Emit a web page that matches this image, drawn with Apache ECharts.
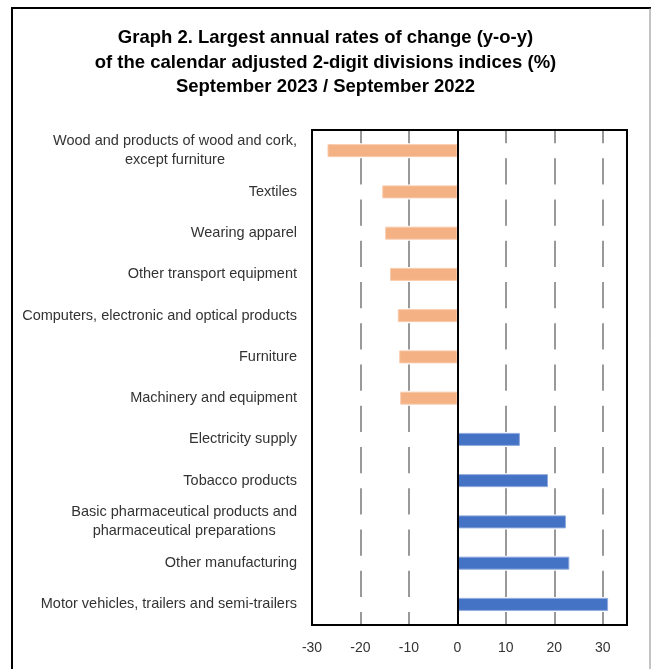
<!DOCTYPE html>
<html>
<head>
<meta charset="utf-8">
<script src="https://cdn.jsdelivr.net/npm/echarts@6/dist/echarts.min.js"></script>
<style>html,body{margin:0;padding:0;background:#fff;}#c{width:651px;height:669px;}</style>
</head>
<body>
<div id="c"></div>
<script>
var categories = [
  "Wood and products of wood and cork,\nexcept furniture",
  "Textiles",
  "Wearing apparel",
  "Other transport equipment",
  "Computers, electronic and optical products",
  "Furniture",
  "Machinery and equipment",
  "Electricity supply",
  "Tobacco products",
  "Basic pharmaceutical products and\npharmaceutical preparations",
  "Other manufacturing",
  "Motor vehicles, trailers and semi-trailers"
];
var values = [-26.8, -15.5, -14.9, -13.9, -12.3, -12.0, -11.8, 12.9, 18.7, 22.4, 23.1, 31.1];
var xTicks = [-30, -20, -10, 0, 10, 20, 30];
var titleLines = [
  "Graph 2. Largest annual rates of change (y-o-y)",
  "of the calendar adjusted 2-digit divisions indices (%)",
  "September 2023 / September 2022"
];

var chart = echarts.init(document.getElementById('c'), null, {renderer: 'canvas'});
var font = 'Liberation Sans';
var option = {
  animation: false,
  backgroundColor: '#fff',
  title: {
    text: titleLines.join('\n'),
    left: 'center',
    top: 21,
    textStyle: {fontFamily: font, fontWeight: 'bold', fontSize: 18.5, lineHeight: 24.5, color: '#000'}
  },
  graphic: [
    {type: 'line', shape: {x1: 12, y1: 8, x2: 651, y2: 8}, style: {stroke: '#000', lineWidth: 2}},
    {type: 'line', shape: {x1: 12, y1: 7, x2: 12, y2: 669}, style: {stroke: '#000', lineWidth: 2}},
    {type: 'line', shape: {x1: 650, y1: 8, x2: 650, y2: 669}, style: {stroke: '#888', lineWidth: 1}}
  ],
  grid: {left: 312, right: 24, top: 130, bottom: 44, show: true, z: 10, borderColor: '#000', borderWidth: 2, backgroundColor: 'transparent', containLabel: false},
  xAxis: {
    type: 'value', min: -30, max: 35, interval: 10,
    axisLine: {show: false}, axisTick: {show: false},
    splitLine: {show: true, lineStyle: {color: '#999', width: 2}},
    axisLabel: {
      margin: 16, fontFamily: font, fontSize: 14, color: '#333',
      formatter: function (v) { return xTicks.indexOf(v) >= 0 ? String(v) : ''; }
    }
  },
  yAxis: {
    type: 'category', data: categories, inverse: true, z: 10,
    axisLine: {show: true, onZero: true, lineStyle: {color: '#000', width: 2}},
    axisTick: {show: false},
    axisLabel: {
      margin: 15, fontFamily: font, fontSize: 14.5, color: '#333',
      formatter: function (v) {
        return v.split('\n').map(function (s) { return '{c|' + s + '}'; }).join('\n');
      },
      rich: {c: {align: 'center', fontFamily: font, fontSize: 14.5, color: '#333', lineHeight: 19}}
    }
  },
  series: [{
    type: 'bar',
    data: values.map(function (v) {
      return {value: v, itemStyle: {color: v < 0 ? '#F4B183' : '#4472C4', borderColor: v < 0 ? '#F8CBAD' : '#8FAADC', borderWidth: 1}};
    }),
    barWidth: 13,
    showBackground: true,
    backgroundStyle: {color: '#fff', borderColor: '#fff', borderWidth: 2}
  }]
};
chart.setOption(option);
</script>
</body>
</html>
